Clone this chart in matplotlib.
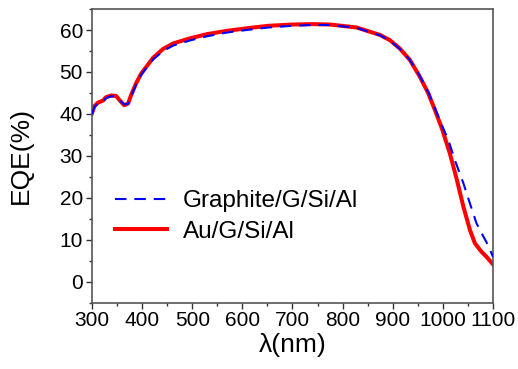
import matplotlib
matplotlib.use("Agg")
import matplotlib.pyplot as plt
from matplotlib.ticker import MultipleLocator

plt.rcParams['font.family'] = ['Liberation Sans', 'DejaVu Sans']

# wavelength (nm) and EQE (%)
wl_au = [300, 305, 312, 322, 328, 338, 348, 355, 364, 372, 378, 388, 398, 410,
         422, 442, 462, 495, 529, 569, 615, 652, 700, 740, 775, 828, 875, 894,
         914, 934, 954, 971, 984, 998, 1014, 1028, 1041, 1054, 1064, 1077, 1087, 1100]
eqe_au = [40.2, 41.9, 42.7, 43.2, 44.0, 44.4, 44.3, 43.3, 42.1, 42.5, 44.5, 47.3,
          49.6, 51.5, 53.4, 55.5, 56.8, 58.0, 59.0, 59.8, 60.5, 61.0, 61.3, 61.4,
          61.3, 60.6, 58.8, 57.6, 55.6, 52.9, 48.9, 44.9, 41.0, 36.6, 30.6, 24.3,
          17.9, 12.4, 9.2, 7.2, 6.0, 4.2]

wl_gr = [300, 305, 312, 322, 328, 338, 348, 355, 364, 372, 378, 388, 398, 410,
         422, 442, 462, 495, 529, 569, 615, 652, 700, 740, 775, 828, 875, 894,
         914, 934, 954, 971, 984, 998, 1011, 1024, 1041, 1054, 1067, 1081, 1090, 1100]
eqe_gr = [40.0, 41.7, 42.5, 43.0, 43.8, 44.2, 44.2, 43.3, 42.3, 42.4, 44.2, 47.0,
          49.3, 51.2, 53.0, 55.0, 56.3, 57.5, 58.5, 59.4, 60.1, 60.6, 61.0, 61.2,
          61.2, 60.5, 58.7, 57.5, 55.5, 52.9, 49.0, 45.2, 41.4, 37.3, 33.8, 29.0,
          23.5, 18.7, 14.0, 10.8, 8.8, 6.0]

fig = plt.figure(figsize=(5.18, 3.69), dpi=100)
ax = fig.add_axes([0.1776, 0.1789, 0.7741, 0.7967])

ax.plot(wl_gr, eqe_gr, color='blue', linestyle=(0, (5.5, 3.8)), linewidth=1.5,
        label='Graphite/G/Si/Al', zorder=3)
ax.plot(wl_au, eqe_au, color='red', linewidth=2.9, label='Au/G/Si/Al', zorder=2)

ax.set_xlim(300, 1100)
ax.set_ylim(-5, 65)
ax.xaxis.set_major_locator(MultipleLocator(100))
ax.xaxis.set_minor_locator(MultipleLocator(50))
ax.yaxis.set_major_locator(MultipleLocator(10))
ax.yaxis.set_minor_locator(MultipleLocator(5))
ax.tick_params(which='both', direction='out', top=False, right=False,
               labelsize=15, color='#333333')
ax.tick_params(which='major', length=4, width=1)
ax.tick_params(which='minor', length=2.5, width=1)
ax.tick_params(axis='x', pad=1.5)
ax.tick_params(axis='y', pad=2.5)
for s in ax.spines.values():
    s.set_color('#555555')
    s.set_linewidth(1.2)

ax.set_xlabel('λ(nm)', fontsize=19)
ax.set_ylabel('EQE(%)', fontsize=19)
ax.xaxis.set_label_coords(0.5, -0.102)
ax.yaxis.set_label_coords(-0.147, 0.5)

ax.legend(loc='center left', bbox_to_anchor=(0.057, 0.294), frameon=False,
          fontsize=17.5, handlelength=2.14, handletextpad=0.66, labelspacing=0.36,
          borderpad=0, borderaxespad=0)

fig.savefig('out.png', dpi=100)
